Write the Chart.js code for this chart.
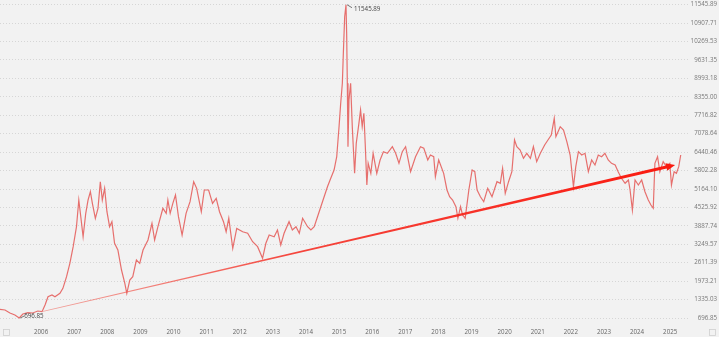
<!DOCTYPE html>
<html>
<head>
<meta charset="utf-8">
<script src="https://cdn.jsdelivr.net/npm/chart.js@4/dist/chart.umd.min.js"></script>
<style>
  html, body { margin: 0; padding: 0; background: #f2f2f2; }
  #wrap { width: 719px; height: 337px; position: relative; }
</style>
</head>
<body>
<div id="wrap"><canvas id="chart"></canvas></div>
<script>
// index closes, x is a decimal year
const years = [
  2005.00, 2005.15, 2005.30, 2005.45, 2005.58, 2005.69, 2005.84, 2005.99, 2006.14, 2006.27,
  2006.36, 2006.45, 2006.57, 2006.66, 2006.81, 2006.90, 2007.01, 2007.11, 2007.21, 2007.31,
  2007.38, 2007.44, 2007.51, 2007.59, 2007.66, 2007.73, 2007.79, 2007.88, 2007.96, 2008.03,
  2008.09, 2008.16, 2008.23, 2008.31, 2008.38, 2008.46, 2008.56, 2008.67, 2008.77, 2008.83,
  2008.92, 2009.01, 2009.12, 2009.22, 2009.32, 2009.47, 2009.59, 2009.67, 2009.77, 2009.92,
  2010.02, 2010.07, 2010.14, 2010.22, 2010.30, 2010.39, 2010.50, 2010.62, 2010.74, 2010.85,
  2010.94, 2011.08, 2011.17, 2011.30, 2011.42, 2011.53, 2011.63, 2011.75, 2011.83, 2011.91,
  2012.03, 2012.15, 2012.33, 2012.48, 2012.63, 2012.78, 2012.93, 2013.03, 2013.13, 2013.28,
  2013.38, 2013.48, 2013.58, 2013.73, 2013.83, 2013.94, 2014.04, 2014.14, 2014.29, 2014.39,
  2014.49, 2014.59, 2014.79, 2014.89, 2014.99, 2015.09, 2015.17, 2015.24, 2015.29, 2015.34,
  2015.37, 2015.41, 2015.45, 2015.47, 2015.49, 2015.51, 2015.54, 2015.59, 2015.64, 2015.71,
  2015.76, 2015.84, 2015.89, 2015.94, 2015.99, 2016.03, 2016.08, 2016.12, 2016.20, 2016.27,
  2016.38, 2016.48, 2016.58, 2016.70, 2016.85, 2016.95, 2017.05, 2017.15, 2017.25, 2017.40,
  2017.55, 2017.70, 2017.80, 2017.92, 2018.00, 2018.10, 2018.15, 2018.25, 2018.40, 2018.50,
  2018.58, 2018.67, 2018.77, 2018.83, 2018.91, 2018.97, 2019.05, 2019.16, 2019.26, 2019.34,
  2019.41, 2019.51, 2019.61, 2019.73, 2019.86, 2020.01, 2020.11, 2020.18, 2020.26, 2020.36,
  2020.46, 2020.54, 2020.61, 2020.71, 2020.81, 2020.91, 2021.02, 2021.11, 2021.21, 2021.32,
  2021.45, 2021.55, 2021.65, 2021.74, 2021.79, 2021.92, 2022.02, 2022.12, 2022.22, 2022.32,
  2022.39, 2022.47, 2022.57, 2022.67, 2022.77, 2022.87, 2022.97, 2023.07, 2023.17, 2023.27,
  2023.37, 2023.47, 2023.58, 2023.67, 2023.77, 2023.88, 2023.98, 2024.03, 2024.10, 2024.18,
  2024.28, 2024.38, 2024.48, 2024.58, 2024.66, 2024.73, 2024.78, 2024.86, 2024.93, 2025.03,
  2025.13, 2025.23, 2025.28, 2025.36, 2025.43, 2025.50, 2025.56
];
const closes = [
  998, 974, 870, 801, 696.85, 835, 880, 870, 939, 915,
  1147, 1435, 1493, 1435, 1552, 1725, 2127, 2591, 3166, 3859,
  4783, 4205, 3512, 4323, 4783, 5071, 4669, 4150, 4496, 5417,
  4783, 5188, 4378, 3859, 4032, 3284, 3052, 2359, 1899, 1552,
  2013, 2127, 2705, 2591, 3052, 3398, 3976, 3398, 3859, 4496,
  4323, 4783, 4323, 4669, 4956, 4205, 3571, 4323, 4724, 5417,
  5188, 4378, 5130, 5130, 4669, 4842, 4378, 4032, 3685, 4150,
  3111, 3800, 3685, 3630, 3339, 3166, 2764, 3284, 3571, 3512,
  3744, 3225, 3630, 4032, 3744, 3859, 3630, 4150, 3859, 3744,
  3859, 4205, 4897, 5244, 5535, 5822, 6283, 7322, 8132, 8825,
  9863, 11131, 11545.89, 10556, 8825, 6629, 8246, 8825, 7322, 5708,
  6747, 7439, 7900, 7322, 7786, 6747, 5303, 6054, 5708, 6400,
  5708, 6168, 6456, 6400, 6629, 6400, 6054, 6456, 6629, 5763,
  6283, 6629, 6574, 6168, 6342, 6283, 5590, 6168, 5708, 5130,
  4897, 4783, 4551, 4150, 4551, 4264, 4150, 5130, 5822, 5763,
  5130, 4897, 4724, 5188, 4897, 5417, 5362, 5881, 5015, 5417,
  5763, 6861, 6629, 6515, 6227, 6400, 6227, 6629, 6110, 6400,
  6688, 6861, 7034, 7612, 6975, 7322, 7207, 6802, 6342, 5244,
  5936, 6456, 6342, 6400, 5763, 6168, 5995, 6342, 6283, 6400,
  6168, 6054, 5995, 5763, 5535, 5362, 5476, 5130, 4437, 5476,
  5303, 5476, 5071, 4783, 4610, 4496, 6054, 6283, 5763, 6110,
  5936, 6054, 5303, 5763, 5708, 5936, 6342
];
const yTicks = [696.85, 1335.03, 1973.21, 2611.39, 3249.57, 3887.74, 4525.92, 5164.10, 5802.28,
  6440.46, 7078.64, 7716.82, 8355.00, 8993.18, 9631.35, 10269.53, 10907.71, 11545.89];
const xTicks = [2006, 2007, 2008, 2009, 2010, 2011, 2012, 2013, 2014, 2015,
  2016, 2017, 2018, 2019, 2020, 2021, 2022, 2023, 2024, 2025];
// support trend line (start, end)
const trendX = [2006.30, 2025.39];
const trendY = [930, 5995];

const tickFont = { family: "'Open Sans', sans-serif", size: 6.2 };

// tapered red trend arrow
const trendArrow = {
  id: 'trendArrow',
  afterDatasetsDraw(chart) {
    const { ctx, scales: { x, y } } = chart;
    const x0 = x.getPixelForValue(trendX[0]), y0 = y.getPixelForValue(trendY[0]);
    const x1 = x.getPixelForValue(trendX[1]), y1 = y.getPixelForValue(trendY[1]);
    const len = Math.hypot(x1 - x0, y1 - y0);
    const ux = (x1 - x0) / len, uy = (y1 - y0) / len;
    const nx = -uy, ny = ux;
    const head = 9, headW = 3.8, w0 = 0.4, w1 = 1.5;
    const bx = x1 - ux * head, by = y1 - uy * head;
    const grad = ctx.createLinearGradient(x0, y0, x1, y1);
    grad.addColorStop(0, 'rgba(240,110,100,0.6)');
    grad.addColorStop(0.4, 'rgba(245,50,40,0.9)');
    grad.addColorStop(1, 'rgb(250,25,15)');
    ctx.save();
    ctx.fillStyle = grad;
    ctx.beginPath();
    ctx.moveTo(x0 + nx * w0, y0 + ny * w0);
    ctx.lineTo(bx + nx * w1, by + ny * w1);
    ctx.lineTo(bx + nx * headW, by + ny * headW);
    ctx.lineTo(x1, y1);
    ctx.lineTo(bx - nx * headW, by - ny * headW);
    ctx.lineTo(bx - nx * w1, by - ny * w1);
    ctx.lineTo(x0 - nx * w0, y0 - ny * w0);
    ctx.closePath();
    ctx.fill();
    ctx.restore();
  }
};

// max / min labels with little leader lines, plus corner boxes
const extremes = {
  id: 'extremes',
  afterDraw(chart) {
    const { ctx, scales: { x, y } } = chart;
    const iMax = closes.indexOf(Math.max(...closes));
    const iMin = closes.indexOf(Math.min(...closes));
    ctx.save();
    ctx.font = "6.2px 'Open Sans', sans-serif";
    ctx.fillStyle = '#444';
    ctx.strokeStyle = '#555';
    ctx.lineWidth = 0.8;
    ctx.textBaseline = 'middle';
    let px = x.getPixelForValue(years[iMax]), py = y.getPixelForValue(closes[iMax]);
    ctx.beginPath();
    ctx.moveTo(px + 1, py);
    ctx.lineTo(px + 6, py + 3);
    ctx.stroke();
    ctx.fillText(closes[iMax].toFixed(2), px + 8, py + 5);
    px = x.getPixelForValue(years[iMin]); py = y.getPixelForValue(closes[iMin]);
    ctx.beginPath();
    ctx.moveTo(px + 1, py);
    ctx.lineTo(px + 5, py - 2);
    ctx.stroke();
    ctx.fillText(closes[iMin].toFixed(2), px + 5, py - 2);
    ctx.strokeStyle = '#cfcfcf';
    ctx.strokeRect(3.5, 329.5, 6, 6);
    ctx.strokeRect(709.5, 329.5, 6, 6);
    ctx.restore();
  }
};

new Chart(document.getElementById('chart'), {
  type: 'line',
  data: {
    datasets: [{
      data: years.map((yr, i) => ({ x: yr, y: closes[i] })),
      borderColor: 'rgba(228, 88, 86, 0.85)',
      borderWidth: 1.2,
      pointRadius: 0,
      tension: 0
    }]
  },
  options: {
    responsive: true,
    maintainAspectRatio: false,
    animation: false,
    devicePixelRatio: 1,
    layout: { padding: { top: 0, left: 0, bottom: 0, right: 2 } },
    plugins: { legend: { display: false }, tooltip: { enabled: false } },
    scales: {
      x: {
        type: 'linear',
        min: 2005.0,
        max: 2025.84,
        afterBuildTicks: (s) => { s.ticks = xTicks.map(v => ({ value: v })); },
        afterFit: (s) => { s.height = 11; s.paddingLeft = 0; s.paddingRight = 0; },
        ticks: {
          font: tickFont, color: '#666', padding: 3, labelOffset: 8,
          maxRotation: 0, autoSkip: false,
          callback: (v) => String(v)
        },
        grid: { display: false, drawTicks: false },
        border: { display: false }
      },
      y: {
        position: 'right',
        min: 420,
        max: 11709,
        afterBuildTicks: (s) => { s.ticks = yTicks.map(v => ({ value: v })); },
        afterFit: (s) => { s.width = 27; s.paddingTop = 0; s.paddingBottom = 0; },
        ticks: {
          font: tickFont, color: '#777', padding: 2, autoSkip: false,
          crossAlign: 'far',
          callback: (v) => Number(v).toFixed(2)
        },
        grid: { color: '#d6d6d6', lineWidth: 1, drawTicks: false },
        border: { display: false, dash: [1, 2] }
      }
    }
  },
  plugins: [trendArrow, extremes]
});
</script>
</body>
</html>
